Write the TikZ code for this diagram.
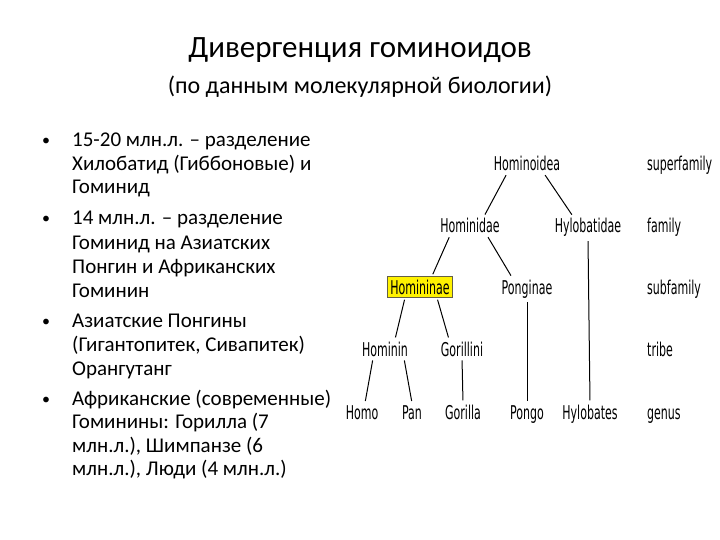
\documentclass[tikz,border=0pt]{standalone}
\usepackage{fontspec}
\setmainfont{Carlito}
\newfontfamily\treefont[FakeStretch=0.58]{DejaVu Sans}
\begin{document}
\begin{tikzpicture}[x=1pt,y=-1pt,
  tx/.style={font=\fontsize{21}{24}\selectfont,anchor=base west,inner sep=0},
  bul/.style={font=\fontsize{16}{24}\selectfont,anchor=base,inner sep=0},
  tn/.style={font=\treefont\fontsize{19}{22}\selectfont,inner sep=2pt,anchor=base},
  rk/.style={tn,anchor=base west},
  ln/.style={line width=1pt,shorten >=2pt,shorten <=2pt}]
\useasboundingbox (0,0) rectangle (720,540);
\node[font=\fontsize{31}{34}\selectfont] (t) at (360,50) {Дивергенция гоминоидов};
\node[font=\fontsize{24}{28}\selectfont] (st) at (360,87) {(по данным молекулярной биологии)};
\foreach \n/\y/\s in {1/147/{15-20 млн.л. – разделение},2/171/{Хилобатид (Гиббоновые) и},3/194/{Гоминид},
 4/225/{14 млн.л. – разделение},5/249/{Гоминид на Азиатских},6/273/{Понгин и Африканских},7/297/{Гоминин},
 8/327/{Азиатские Понгины},9/351/{(Гигантопитек, Сивапитек)},10/375/{Орангутанг},
 11/405/{Африканские (современные)},12/428/{Гоминины: Горилла (7},13/452/{млн.л.), Шимпанзе (6},14/475/{млн.л.), Люди (4 млн.л.)}}
  \node[tx] (l\n) at (72,\y) {\s};
\foreach \n/\y in {1/146,2/224,3/326,4/404}
  \node[bul] (b\n) at (46,\y) {•};
% tree
\node[tn] (hoid) at (527,171) {Hominoidea};
\node[rk] (sf) at (645,171) {superfamily};
\node[tn] (hdae) at (470,233) {Hominidae};
\node[tn] (hyl) at (588,233) {Hylobatidae};
\node[rk] (fam) at (645,233) {family};
\node[tn,draw=black!70!yellow,fill=yellow,line width=1pt,inner sep=3pt] (hnae) at (420,294) {Homininae};
\node[tn] (pnae) at (527,294) {Ponginae};
\node[rk] (subf) at (645,294) {subfamily};
\node[tn] (hmn) at (385,356) {Hominin};
\node[tn] (gor) at (462,356) {Gorillini};
\node[rk] (tribe) at (645,356) {tribe};
\node[tn] (homo) at (362,419) {Homo};
\node[tn] (pan) at (412,419) {Pan};
\node[tn] (gorilla) at (463,419) {Gorilla};
\node[tn] (pongo) at (527,419) {Pongo};
\node[tn] (hylob) at (590,419) {Hylobates};
\node[rk] (genus) at (645,419) {genus};
\draw[ln] (hoid.south) ++(-20,0) coordinate (c1) -- ([xshift=14]hdae.north);
\draw[ln] (hoid.south) ++(17,0) coordinate (c2) -- ([xshift=-15]hyl.north);
\draw[ln] (hdae.south) ++(-20,0) coordinate (c3) -- ([xshift=12]hnae.north);
\draw[ln] (hdae.south) ++(17,0) coordinate (c4) -- ([xshift=-15]pnae.north);
\draw[ln] (hyl.south) -- (hylob.north);
\draw[ln] (pnae.south) -- (pongo.north);
\draw[ln] (hnae.south) ++(-15,0) coordinate (c5) -- ([xshift=10]hmn.north);
\draw[ln] (hnae.south) ++(17,0) coordinate (c6) -- ([xshift=-13]gor.north);
\draw[ln] (hmn.south) ++(-12,0) coordinate (c7) -- ([xshift=3]homo.north);
\draw[ln] (hmn.south) ++(19,0) coordinate (c8) -- ([xshift=0]pan.north);
\draw[ln] (gor.south) -- (gorilla.north);
\end{tikzpicture}
\end{document}
